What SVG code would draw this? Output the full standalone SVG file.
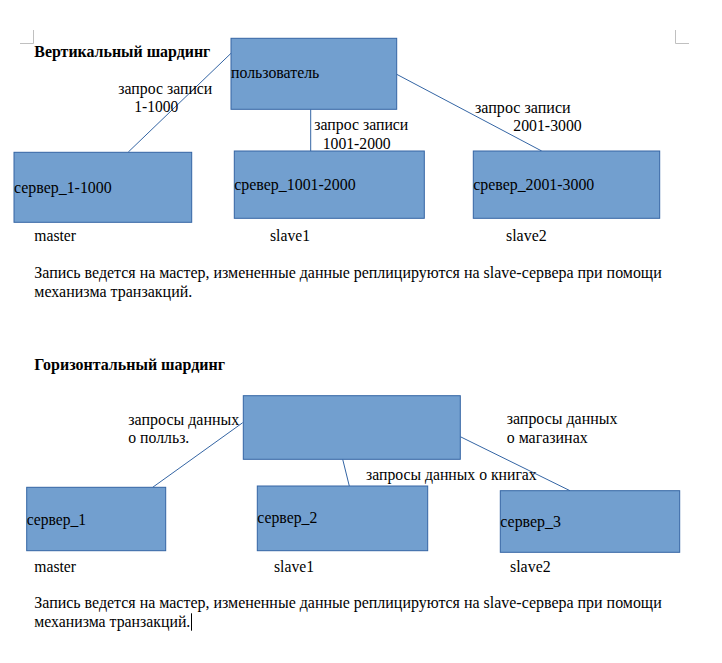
<svg xmlns="http://www.w3.org/2000/svg" width="722" height="663" viewBox="0 0 722 663">
<style>
.bg{fill:#ffffff}
.box{fill:#729fcf;stroke:#3465a4;stroke-width:1}
.edge{stroke:#3465a4;stroke-width:1;fill:none}
.mark{stroke:#c0c0c0;stroke-width:1;fill:none}
text{font-family:"Liberation Serif","Times New Roman",serif;font-size:17.5px;fill:#000000}
.b{font-weight:bold}
.s{font-size:16px}
</style>
<rect class="bg" x="0" y="0" width="722" height="663"/>
<g id="page-marks">
<path class="mark" d="M20 43.5H33.5V30"/>
<path class="mark" d="M675.5 30V43.5H689"/>
</g>
<text class="b" x="34.3" y="57.3" textLength="176" lengthAdjust="spacingAndGlyphs">Вертикальный шардинг</text>
<g id="connectors-vertical">
<line class="edge" x1="231" y1="53.3" x2="128.3" y2="152"/>
<line class="edge" x1="310.7" y1="109.3" x2="310.7" y2="151"/>
<line class="edge" x1="396.7" y1="74.3" x2="541.7" y2="151"/>
<text><tspan x="118.3" y="94" textLength="94" lengthAdjust="spacingAndGlyphs">запрос записи</tspan><tspan x="134.3" y="112.3" textLength="44" lengthAdjust="spacingAndGlyphs">1-1000</tspan></text>
<text class="s"><tspan x="314.3" y="130.4" textLength="94" lengthAdjust="spacingAndGlyphs">запрос записи</tspan><tspan x="322.7" y="148.5" textLength="68" lengthAdjust="spacingAndGlyphs">1001-2000</tspan></text>
<text><tspan x="475" y="112.7" textLength="95.7" lengthAdjust="spacingAndGlyphs">запрос записи</tspan><tspan x="513.3" y="130.7" textLength="68.4" lengthAdjust="spacingAndGlyphs">2001-3000</tspan></text>
</g>
<g id="user">
<rect class="box" x="231" y="38.3" width="165.7" height="71"/>
<text x="231" y="78.3" textLength="88.3" lengthAdjust="spacingAndGlyphs">пользователь</text>
</g>
<g id="server-1-1000">
<rect class="box" x="14" y="152.3" width="177.7" height="70"/>
<text x="14" y="193.3" textLength="97.7" lengthAdjust="spacingAndGlyphs">сервер_1-1000</text>
<text x="34.3" y="241" textLength="41.7" lengthAdjust="spacingAndGlyphs">master</text>
</g>
<g id="server-1001-2000">
<rect class="box" x="234.3" y="151" width="190" height="67.3"/>
<text x="234.3" y="190" textLength="121.4" lengthAdjust="spacingAndGlyphs">сревер_1001-2000</text>
<text x="270" y="241" textLength="40" lengthAdjust="spacingAndGlyphs">slave1</text>
</g>
<g id="server-2001-3000">
<rect class="box" x="473.3" y="151" width="186.4" height="67.3"/>
<text x="473.3" y="190" textLength="121" lengthAdjust="spacingAndGlyphs">сревер_2001-3000</text>
<text x="506" y="241" textLength="40.7" lengthAdjust="spacingAndGlyphs">slave2</text>
</g>
<text><tspan x="34.3" y="278.3" textLength="627.4" lengthAdjust="spacingAndGlyphs">Запись ведется на мастер, измененные данные реплицируются на slave-сервера при помощи</tspan><tspan x="34.3" y="296.7" textLength="158" lengthAdjust="spacingAndGlyphs">механизма транзакций.</tspan></text>
<text class="b" x="34.3" y="370" textLength="190.7" lengthAdjust="spacingAndGlyphs">Горизонтальный шардинг</text>
<g id="connectors-horizontal">
<line class="edge" x1="242.7" y1="422.7" x2="152.7" y2="487.3"/>
<line class="edge" x1="342.7" y1="459.3" x2="349.3" y2="486"/>
<line class="edge" x1="460.3" y1="436.7" x2="570" y2="490.7"/>
<text><tspan x="128.3" y="425" textLength="111" lengthAdjust="spacingAndGlyphs">запросы данных</tspan><tspan x="128.3" y="443.3" textLength="61" lengthAdjust="spacingAndGlyphs">о полльз.</tspan></text>
<text x="366" y="480" textLength="170.7" lengthAdjust="spacingAndGlyphs">запросы данных о книгах</text>
<text><tspan x="506.7" y="424.3" textLength="110.7" lengthAdjust="spacingAndGlyphs">запросы данных</tspan><tspan x="506.7" y="443.3" textLength="81" lengthAdjust="spacingAndGlyphs">о магазинах</tspan></text>
</g>
<g id="top-node">
<rect class="box" x="243.3" y="395.7" width="217" height="63.6"/>
</g>
<g id="server-1">
<rect class="box" x="26.7" y="487.3" width="139" height="63.4"/>
<text x="26.7" y="525" textLength="59.3" lengthAdjust="spacingAndGlyphs">сервер_1</text>
<text x="34.3" y="572" textLength="41.7" lengthAdjust="spacingAndGlyphs">master</text>
</g>
<g id="server-2">
<rect class="box" x="257.3" y="486" width="170.4" height="64.7"/>
<text x="257.3" y="523.3" textLength="60" lengthAdjust="spacingAndGlyphs">сервер_2</text>
<text x="274" y="572" textLength="40" lengthAdjust="spacingAndGlyphs">slave1</text>
</g>
<g id="server-3">
<rect class="box" x="500.3" y="490.7" width="179.4" height="61.6"/>
<text x="500.3" y="526.7" textLength="60.7" lengthAdjust="spacingAndGlyphs">сервер_3</text>
<text x="510" y="572.3" textLength="40.7" lengthAdjust="spacingAndGlyphs">slave2</text>
</g>
<text><tspan x="34.3" y="608.3" textLength="627.4" lengthAdjust="spacingAndGlyphs">Запись ведется на мастер, измененные данные реплицируются на slave-сервера при помощи</tspan><tspan x="34.3" y="626.7" textLength="156" lengthAdjust="spacingAndGlyphs">механизма транзакций.</tspan></text>
<line x1="191.5" y1="613.3" x2="191.5" y2="630.7" stroke="#000000" stroke-width="1"/>
</svg>
